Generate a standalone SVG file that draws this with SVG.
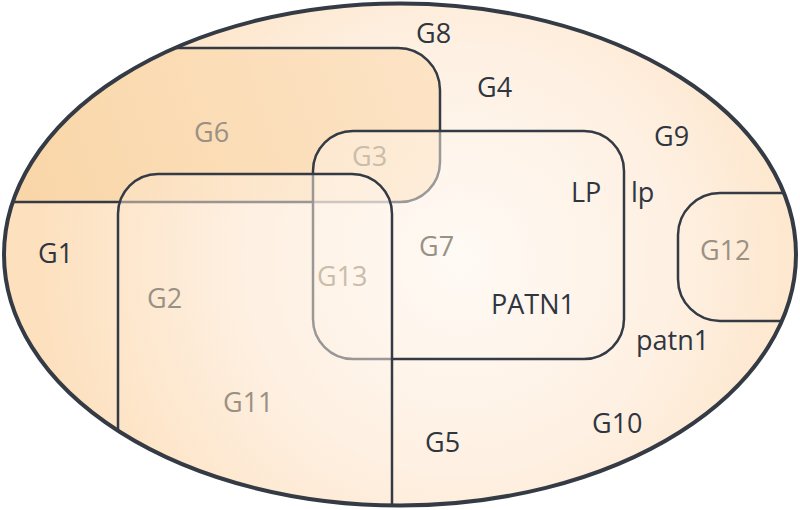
<svg xmlns="http://www.w3.org/2000/svg" width="800" height="510" viewBox="0 0 800 510">
<defs>
<radialGradient id="bg" gradientUnits="userSpaceOnUse" cx="460" cy="260" r="430">
<stop offset="0" stop-color="#fffaf5"/>
<stop offset="0.5" stop-color="#fef0e2"/>
<stop offset="1" stop-color="#fde0bd"/>
</radialGradient>
<linearGradient id="g6fill" gradientUnits="userSpaceOnUse" x1="20" y1="200" x2="440" y2="60">
<stop offset="0" stop-color="#f9d6a8"/>
<stop offset="1" stop-color="#fde4c6"/>
</linearGradient>
<clipPath id="clip">
<ellipse cx="400" cy="254.5" rx="396" ry="251"/>
</clipPath>
</defs>
<style>
.veil{fill:url(#bg);fill-opacity:0.5;stroke:#343b45;stroke-width:2.5}
text{font-family:"Open Sans","Noto Sans","Liberation Sans",sans-serif;font-size:27px}
.dark{fill:#2f3640}
.mid{fill:#9a9185}
.light{fill:#cabdaa}
</style>
<g id="universe">
<ellipse cx="400" cy="254.5" rx="396" ry="251" fill="url(#bg)"/>
</g>
<g clip-path="url(#clip)">
<g id="G6">
<path d="M -10 48 H 398 A 42 42 0 0 1 440 90 V 162 A 40 40 0 0 1 400 202 H -10 Z" fill="url(#g6fill)" stroke="#343b45" stroke-width="2.5"/>
</g>
<g id="G3rect">
<rect x="313" y="131" width="311" height="228" rx="40" class="veil"/>
</g>
<g id="G2rect">
<rect x="118" y="174" width="274" height="420" rx="40" class="veil"/>
</g>
<g id="G12rect">
<rect x="678" y="193" width="200" height="128" rx="42" class="veil"/>
</g>
</g>
<g id="border">
<ellipse cx="400" cy="254.5" rx="396" ry="251" fill="none" stroke="#343b45" stroke-width="4"/>
</g>
<g id="labels">
<text class="dark" x="416" y="43">G8</text>
<text class="dark" x="477" y="97">G4</text>
<text class="mid" x="194" y="142">G6</text>
<text class="light" x="352" y="166">G3</text>
<text class="dark" x="654" y="146">G9</text>
<text class="dark" x="571" y="202">LP</text>
<text class="dark" x="631" y="202">lp</text>
<text class="dark" x="38" y="263">G1</text>
<text class="mid" x="419" y="256">G7</text>
<text class="mid" x="700" y="260">G12</text>
<text class="light" x="317" y="286">G13</text>
<text class="mid" x="147" y="308">G2</text>
<text class="dark" x="491" y="314">PATN1</text>
<text class="dark" x="636" y="350">patn1</text>
<text class="mid" x="223" y="412">G11</text>
<text class="dark" x="592" y="433">G10</text>
<text class="dark" x="425" y="452">G5</text>
</g>
</svg>
